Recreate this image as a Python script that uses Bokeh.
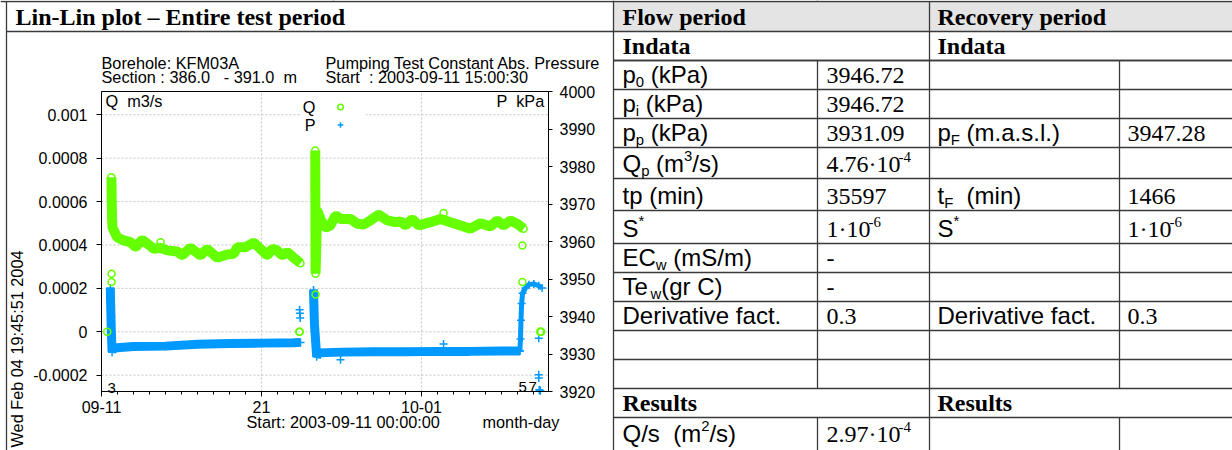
import math
import re
from bokeh.plotting import figure
from bokeh.models import (Range1d, LinearAxis, FixedTicker, Label, Legend, LegendItem)
from bokeh.embed import file_html
from bokeh.resources import INLINE

# ---------------- data ----------------
# time axis: days since 2003-09-11 00:00
x_ticks = [0, 10, 20]
x_tick_labels = ["09-11", "21", "10-01"]
x_minor_ticks = [1, 2, 3, 4, 5, 6, 7, 8, 9, 11, 12, 13, 14, 15, 16, 17, 18, 19,
                 21, 22, 23, 24, 25, 26, 27]
q_ticks = [-0.0002, 0.0, 0.0002, 0.0004, 0.0006, 0.0008, 0.001]
q_tick_labels = ["-0.0002", "0", "0.0002", "0.0004", "0.0006", "0.0008", "0.001"]
p_ticks = [3920, 3930, 3940, 3950, 3960, 3970, 3980, 3990, 4000]

# Q (m3/s), first flow period
q1_t = [0.62, 0.63, 0.64, 0.66, 0.69, 0.77, 0.98, 1.39, 1.81, 2.13, 2.54, 2.86, 3.27,
        3.69, 4.11, 4.73, 5.04, 5.56, 6.19, 6.61, 7.23, 7.86, 8.27, 8.48, 9.00, 9.52,
        9.94, 10.36, 10.67, 10.98, 11.29, 11.61, 12.02, 12.44]
q1_v = [0.000712, 0.00066, 0.00060, 0.00052, 0.00048, 0.000467, 0.000436, 0.000421,
        0.000413, 0.000390, 0.000424, 0.000406, 0.000382, 0.000387, 0.000375, 0.000370,
        0.000352, 0.000387, 0.000352, 0.000382, 0.000341, 0.000356, 0.000359, 0.000390,
        0.000390, 0.000411, 0.000382, 0.000352, 0.000382, 0.000375, 0.000352, 0.000367,
        0.000341, 0.000316]
# Q, second flow period
q2_t = [13.36, 13.38, 13.48, 13.69, 14.00, 14.31, 14.63, 14.94, 15.56, 15.98, 16.39,
        16.81, 17.33, 17.86, 18.38, 18.69, 19.00, 19.42, 19.83, 20.56, 21.19, 21.81,
        22.44, 23.06, 23.69, 24.31, 24.73, 25.14, 25.56, 25.98, 26.39]
q2_v = [0.000835, 0.000268, 0.000559, 0.000520, 0.000479, 0.000490, 0.000536, 0.000520,
        0.000520, 0.000498, 0.000494, 0.000513, 0.000540, 0.000513, 0.000505, 0.000509,
        0.000490, 0.000519, 0.000490, 0.000505, 0.000520, 0.000505, 0.000490, 0.000475,
        0.000500, 0.000485, 0.000513, 0.000490, 0.000513, 0.000498, 0.000475]
# Q, isolated readings
q_pts_t = [0.36, 0.63, 0.63, 3.69, 12.36, 12.39, 13.38, 13.37, 13.37, 13.38, 13.38,
           13.38, 21.38, 26.31, 26.31, 27.42, 27.45, 27.48]
q_pts_v = [0.0, 0.000267, 0.000229, 0.000413, 0.0, 0.0, 0.000172, 0.00075, 0.00065,
           0.00045, 0.00038, 0.00032, 0.000547, 0.000398, 0.000229, 0.0, 0.0, 0.0]

# P (kPa)
p1_t = [0.55, 0.60, 0.66, 0.75, 2.0, 4.0, 6.0, 8.0, 10.0, 12.0, 12.44]
p1_v = [3947.6, 3938.0, 3930.5, 3931.6, 3932.0, 3932.1, 3932.6, 3932.8, 3932.9, 3933.0, 3933.1]
p2_t = [13.25, 13.31, 13.45, 13.60, 15.0, 17.0, 19.0, 21.0, 23.0, 25.0, 26.15]
p2_v = [3947.1, 3938.0, 3929.3, 3930.3, 3930.5, 3930.6, 3930.6, 3930.7, 3930.7, 3930.8, 3930.8]
p_rec_t = [26.15, 26.19, 26.22, 26.26, 26.32, 26.50, 26.71, 27.02, 27.33, 27.54]
p_rec_v = [3930.8, 3934.0, 3939.0, 3943.5, 3946.2, 3947.6, 3948.5, 3948.7, 3948.2, 3947.6]
p_pts_t = [0.58, 0.62, 12.38, 12.40, 12.42, 13.28, 14.94, 21.38, 27.33, 27.33, 27.33,
           27.36, 27.40, 27.43]
p_pts_v = [3945.0, 3940.0, 3941.8, 3940.9, 3939.6, 3945.0, 3928.5, 3932.7, 3934.2,
           3924.5, 3923.6, 3920.5, 3920.3, 3920.2]

# table content
row_tops = [60, 89, 118, 147, 178, 210, 243, 272, 301, 330, 359, 388, 417]
flow_labels = [
    [("p", ""), ("0", "sub"), (" (kPa)", "")],
    [("p", ""), ("i", "sub"), (" (kPa)", "")],
    [("p", ""), ("p", "sub"), (" (kPa)", "")],
    [("Q", ""), ("p", "sub"), (" (m", ""), ("3", "sup"), ("/s)", "")],
    [("tp (min)", "")],
    [("S", ""), ("*", "sup")],
    [("EC", ""), ("w", "sub"), (" (mS/m)", "")],
    [("Te", ""), ("w", "sub"), ("(gr C)", "")],
    [("Derivative fact.", "")],
    [], [], None,
    [("Q/s  (m", ""), ("2", "sup"), ("/s)", "")],
]
flow_values = [
    [("3946.72", "")], [("3946.72", "")], [("3931.09", "")],
    [("4.76·10", ""), ("-4", "sup")], [("35597", "")], [("1·10", ""), ("-6", "sup")],
    [("-", "")], [("-", "")], [("0.3", "")], [], [], None,
    [("2.97·10", ""), ("-4", "sup")],
]
rec_labels = [
    [], [], [("p", ""), ("F", "sub"), (" (m.a.s.l.)", "")], [],
    [("t", ""), ("F", "sub"), ("  (min)", "")], [("S", ""), ("*", "sup")],
    [], [], [("Derivative fact.", "")], [], [], None, [],
]
rec_values = [
    [], [], [("3947.28", "")], [], [("1466", "")], [("1·10", ""), ("-6", "sup")],
    [], [], [("0.3", "")], [], [], None, [],
]

# ---------------- layout constants (page pixels) ----------------
W, H = 1232, 450
BX0, BX1, BY0, BY1 = 101, 548, 91, 391      # chart box on the page
T0, T1 = 0.0, 27.94
Q_LO, Q_HI = -0.000275, 0.001107
P_LO, P_HI = 3920.0, 4000.0

GREEN = "#66ff00"
BLUE = "#0099ff"
SANS = "Liberation Sans"
SERIF = "Liberation Serif"
LINE = "#3a3a3a"
CH = 16.3          # chart text size
TB = 24            # table text size
BASE_K = 0.34      # baseline correction (fraction of font size)


def ext_x(lo, hi):
    k = (hi - lo) / (BX1 - BX0)
    return Range1d(lo - BX0 * k, hi + (W - BX1) * k)


def ext_y(lo, hi):
    k = (hi - lo) / (BY1 - BY0)
    return Range1d(lo - (H - BY1) * k, hi + BY0 * k)


p = figure(width=W, height=H, title=None, output_backend="svg", toolbar_location=None,
           x_range=Range1d(0, W), y_range=Range1d(H, 0),
           x_axis_type=None, y_axis_type=None, min_border=0,
           background_fill_color="white", border_fill_color="white")
p.outline_line_color = None
p.extra_x_ranges = {"t": ext_x(T0, T1)}
p.extra_y_ranges = {"q": ext_y(Q_LO, Q_HI), "p": ext_y(P_LO, P_HI)}

# ---------------- table frame ----------------
p.quad(left=[613], right=[W], top=[1], bottom=[31], fill_color="#e4e4e4", line_color=None)
hx0, hx1, hy = [0, 6, 613], [W, W, W], [1, 31, 60]
for top in row_tops:
    hx0.append(613); hx1.append(W); hy.append(top)
p.segment(x0=hx0, x1=hx1, y0=hy, y1=hy, line_color=LINE, line_width=1.3)
vx = [6, 613, 929, 817, 817, 1119, 1119, 333, 817]
vy0 = [1, 0, 1, 60, 417, 60, 417, 0, 0]
vy1 = [H, H, H, 388, H, 388, H, 1, 1]
p.segment(x0=vx, x1=vx, y0=vy0, y1=vy1, line_color=LINE, line_width=1.3)

# ---------------- chart ----------------
grid_x = [t for t in x_ticks if T0 < t < T1]
p.segment(x0=grid_x, x1=grid_x, y0=[Q_LO] * len(grid_x), y1=[Q_HI] * len(grid_x),
          x_range_name="t", y_range_name="q", line_color="#c4c4c4", line_dash="2 2")
p.segment(x0=[T0] * len(q_ticks), x1=[T1] * len(q_ticks), y0=q_ticks, y1=q_ticks,
          x_range_name="t", y_range_name="q", line_color="#c4c4c4", line_dash="2 2")
# white area behind the legend
p.quad(left=[300], right=[365], top=[97], bottom=[131], fill_color="white", line_color=None)

kw_p = dict(x_range_name="t", y_range_name="p")
kw_q = dict(x_range_name="t", y_range_name="q")
p.line(p1_t, p1_v, line_color=BLUE, line_width=9, **kw_p)
p.line(p2_t, p2_v, line_color=BLUE, line_width=9, **kw_p)
p.line(p_rec_t, p_rec_v, line_color=BLUE, line_width=5, **kw_p)
p_sc = p.scatter(p1_t + p2_t + p_rec_t + p_pts_t, p1_v + p2_v + p_rec_v + p_pts_v,
                 marker="cross", size=8, line_color=BLUE, line_width=1.5, **kw_p)
p.line(q1_t, q1_v, line_color=GREEN, line_width=10, **kw_q)
p.line(q2_t, q2_v, line_color=GREEN, line_width=10, **kw_q)
q_sc = p.scatter(q1_t + q2_t + q_pts_t, q1_v + q2_v + q_pts_v, marker="circle",
                 size=7, fill_color=None, line_color=GREEN, line_width=1.5, **kw_q)
p.quad(left=[T0], right=[T1], bottom=[Q_LO], top=[Q_HI], fill_color=None,
       line_color="black", line_width=1, **kw_q)

# axes drawn at the chart box edges
ax_l = LinearAxis(x_range_name="t", y_range_name="q", fixed_location=T0,
                  bounds=(Q_LO, Q_HI), ticker=FixedTicker(ticks=q_ticks),
                  major_label_overrides={t: l for t, l in zip(q_ticks, q_tick_labels)})
ax_r = LinearAxis(x_range_name="t", y_range_name="p", fixed_location=T1,
                  bounds=(P_LO, P_HI), ticker=FixedTicker(ticks=p_ticks))
ax_b = LinearAxis(x_range_name="t", y_range_name="q", fixed_location=Q_LO,
                  bounds=(T0, T1), ticker=FixedTicker(ticks=x_ticks, minor_ticks=x_minor_ticks),
                  major_label_overrides={t: l for t, l in zip(x_ticks, x_tick_labels)})
for ax in (ax_l, ax_r, ax_b):
    ax.axis_line_color = "black"
    ax.major_tick_line_color = "black"
    ax.minor_tick_line_color = "black"
    ax.major_label_text_font = SANS
    ax.major_label_text_font_size = "16px"
    ax.major_label_text_color = "black"
    ax.major_tick_in = 0
ax_b.major_tick_out = 5
ax_b.minor_tick_in = 0
ax_b.minor_tick_out = 3
ax_b.major_label_standoff = 4
ax_l.major_tick_out = 5
ax_l.minor_tick_line_color = None
ax_l.major_label_standoff = 9
ax_r.major_tick_out = 4
ax_r.minor_tick_line_color = None
ax_r.major_label_standoff = 7
p.add_layout(ax_l, "left")
p.add_layout(ax_r, "right")
p.add_layout(ax_b, "below")

legend = Legend(items=[LegendItem(label=" ", renderers=[q_sc]),
                       LegendItem(label=" ", renderers=[p_sc])],
                location=(333, H - 133.2), glyph_width=14, glyph_height=17,
                label_height=17, label_width=1, spacing=1, padding=0, margin=0,
                label_standoff=0, label_text_font=SANS, label_text_font_size="16px",
                border_line_color=None, background_fill_alpha=0.0)
p.add_layout(legend)


# ---------------- texts ----------------
def keep_spaces(text):
    # SVG collapses repeated spaces: keep them as no-break spaces
    return re.sub(r" {2,}", lambda m: " " + "\u00a0" * (len(m.group(0)) - 1), text)


def label(x, y, text, size, font=SANS, bold=False, align="left", angle=0.0):
    if angle:
        x = x - BASE_K * size
    else:
        y = y - BASE_K * size
    p.add_layout(Label(x=x, y=y, text=keep_spaces(text), text_font=font,
                       text_font_size=f"{size}px",
                       text_font_style="bold" if bold else "normal",
                       text_align=align, text_baseline="alphabetic", angle=angle,
                       text_color="black"))


ARIAL = {' ': 278, '(': 333, ')': 333, '*': 389, '.': 278, '/': 278, '-': 333,
         'C': 722, 'D': 722, 'E': 667, 'F': 611, 'M': 833, 'P': 667, 'Q': 778,
         'S': 667, 'T': 611, 'a': 556, 'c': 500, 'e': 556, 'f': 278, 'g': 556,
         'i': 222, 'k': 500, 'l': 222, 'm': 833, 'n': 556, 'p': 556, 'r': 333,
         's': 500, 't': 278, 'v': 500, 'w': 722}
TIMES = {' ': 250, '.': 250, '·': 250, '-': 333}


def text_width(txt, size, font):
    total = 0
    for ch in txt:
        if ch.isdigit():
            total += 556 if font == SANS else 500
        else:
            total += (ARIAL if font == SANS else TIMES).get(ch, 500)
    return total / 1000.0 * size


def runs(x, y, parts, size, font):
    cx = x
    for txt, kind in parts:
        if kind == "sub":
            fs, by = size * 0.62, y + size * 0.2
        elif kind == "sup":
            fs, by = size * 0.62, y - size * 0.42
        else:
            fs, by = size, y
        lead = len(txt) - len(txt.lstrip(" "))
        cx += text_width(" " * lead, fs, font)
        body = txt.lstrip(" ")
        label(cx, by, body, round(fs, 1), font=font)
        cx += text_width(body, fs, font)


label(15, 25, "Lin-Lin plot – Entire test period", 24, font=SERIF, bold=True)
label(622, 25, "Flow period", 24, font=SERIF, bold=True)
label(937, 25, "Recovery period", 24, font=SERIF, bold=True)
label(622, 54, "Indata", 24, font=SERIF, bold=True)
label(937, 54, "Indata", 24, font=SERIF, bold=True)

bottoms = row_tops[1:] + [448]
for i, top in enumerate(row_tops):
    bot = bottoms[i]
    if flow_labels[i] is None:
        label(622, bot - 6, "Results", 24, font=SERIF, bold=True)
        label(937, bot - 6, "Results", 24, font=SERIF, bold=True)
        continue
    runs(622, bot - 7, flow_labels[i], TB, SANS)
    runs(826, bot - 6, flow_values[i], TB, SERIF)
    runs(937, bot - 7, rec_labels[i], TB, SANS)
    runs(1127, bot - 6, rec_values[i], TB, SERIF)

label(101, 68, "Borehole: KFM03A", CH)
label(101, 82, "Section : 386.0   - 391.0  m", CH)
label(325, 68, "Pumping Test Constant Abs. Pressure", CH)
label(325, 82, "Start  : 2003-09-11 15:00:30", CH)
label(105, 106, "Q  m3/s", CH)
label(544, 106, "P  kPa", CH, align="right")
label(315, 112, "Q", CH, align="right")
label(315, 130, "P", CH, align="right")
label(246, 427, "Start: 2003-09-11 00:00:00", CH)
label(482, 427, "month-day", CH)
label(107, 393, "3", 15)
label(518, 392, "5", 15)
label(528, 392, "7", 15)
label(22, 447, "Wed Feb 04 19:45:51 2004", CH, angle=math.pi / 2)

open("out.html", "w").write(file_html(p, INLINE))
